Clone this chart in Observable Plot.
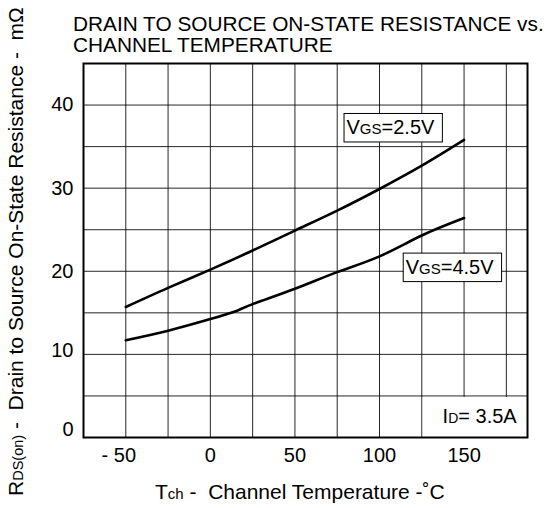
<!DOCTYPE html>
<html>
<head>
<meta charset="utf-8">
<script src="https://cdn.jsdelivr.net/npm/d3@7"></script>
<script src="https://cdn.jsdelivr.net/npm/@observablehq/plot@0.6"></script>
<style>
  body { margin: 0; background: #fff; }
  svg text { font-family: "Liberation Sans", Arial, sans-serif; }
</style>
</head>
<body>
<div id="chart"></div>
<script>
// ---- data ----
const tempsVgs25 = [-50, -25, 0, 25, 50, 75, 100, 125, 150];            // Tch, °C
const rdsVgs25 = [15.7, 18.0, 20.2, 22.5, 24.9, 27.3, 29.9, 32.7, 35.8];  // mΩ, VGS=2.5V
const tempsVgs45 = [-50, -25, 0, 15, 25, 50, 75, 100, 125, 150];         // Tch, °C
const rdsVgs45 = [11.7, 12.85, 14.25, 15.2, 16.05, 17.9, 19.9, 21.8, 24.3, 26.4]; // mΩ, VGS=4.5V
const seriesNames = ["VGS=2.5V", "VGS=4.5V"];
const xTickValues = [-50, 0, 50, 100, 150];
const yTickValues = [0, 10, 20, 30, 40];
const xGridValues = [-50, -25, 0, 25, 50, 75, 100, 125, 150, 175];
const yGridValues = [5, 10, 15, 20, 25, 30, 35, 40];
const xDomain = [-75, 187.5];
const yDomain = [0, 45];
const titleLines = ["DRAIN TO SOURCE ON-STATE RESISTANCE vs.", "CHANNEL TEMPERATURE"];
// annotations: [main, subscript, rest] and anchor in data units
const curveLabels = [
  {main: "V", sub: "GS", rest: "=2.5V", x: 80.8, y: 36.4},
  {main: "V", sub: "GS", rest: "=4.5V", x: 115.8, y: 19.6}
];
const condLabel = {main: "I", sub: "D", rest: "= 3.5A", x: 137.6, y: 1.7};
const condBox = {x1: 125, x2: 187.5, y1: 0, y2: 5};

const rows = [];
[[tempsVgs25, rdsVgs25], [tempsVgs45, rdsVgs45]].forEach(([ts, vals], k) =>
  ts.forEach((t, i) => rows.push({t, r: vals[i], s: seriesNames[k]})));

const fmt = d => d < 0 ? "- " + Math.abs(d) : String(d);

const chart = Plot.plot({
  width: 560, height: 508,
  marginLeft: 83, marginRight: 33, marginTop: 63, marginBottom: 71,
  style: {fontFamily: "Liberation Sans, Arial, sans-serif", fontSize: "20px", color: "#000", background: "#fff"},
  x: {domain: xDomain, label: null},
  y: {domain: yDomain, label: null},
  marks: [
    Plot.gridX(xGridValues, {stroke: "#000", strokeOpacity: 0.85, strokeWidth: 1}),
    Plot.gridY(yGridValues, {stroke: "#000", strokeOpacity: 0.85, strokeWidth: 1}),
    Plot.rect([condBox], {x1: "x1", x2: "x2", y1: "y1", y2: "y2", fill: "#fff", insetLeft: 1.5, insetTop: 1.5}),
    Plot.line(rows, {x: "t", y: "r", z: "s", stroke: "#000", strokeWidth: 2.6, curve: "natural"}),
    Plot.frame({stroke: "#000", strokeWidth: 2}),
    Plot.axisY(yTickValues.filter(d => d >= 20), {tickSize: 0, tickPadding: 10, label: null, fontSize: 20}),
    Plot.axisY(yTickValues.filter(d => d === 10), {tickSize: 0, tickPadding: 10, label: null, fontSize: 20, dy: -4}),
    Plot.axisY(yTickValues.filter(d => d === 0), {tickSize: 0, tickPadding: 10, label: null, fontSize: 20, dy: -8}),
    Plot.axisX(xTickValues.filter(d => d >= 0), {tickSize: 0, tickPadding: 10, label: null, fontSize: 20, tickFormat: fmt}),
    Plot.axisX(xTickValues.filter(d => d < 0), {tickSize: 0, tickPadding: 10, label: null, fontSize: 20, tickFormat: fmt, dx: -7})
  ]
});
document.getElementById("chart").appendChild(chart);

const svg = d3.select(chart);
const sx = chart.scale("x"), sy = chart.scale("y");
const FONT = "Liberation Sans, Arial, sans-serif";

function richText(parent, parts, x, y, attrs = {}) {
  const t = parent.append("text").attr("x", x).attr("y", y)
    .attr("font-family", FONT).attr("fill", "#000").attr("text-anchor", "start")
    .style("white-space", "pre");
  Object.entries(attrs).forEach(([k, v]) => t.attr(k, v));
  parts.forEach(([s, size]) => t.append("tspan").attr("font-size", size).text(s));
  return t;
}

// title
titleLines.forEach((line, i) =>
  richText(svg, [[line, 20.8]], 73, 31 + i * 21));

// x axis label
richText(svg, [["T", 21], ["ch", 15], [" -  Channel Temperature -˚C", 21]], 155, 499);

// y axis label (rotated)
richText(svg, [["R", 21], ["DS(on)", 14.5], [" -  Drain to Source On-State Resistance -  mΩ", 21]], 0, 0,
  {transform: "translate(23,496) rotate(-90)"});

// curve labels with boxes
curveLabels.forEach(l => {
  const g = svg.append("g");
  const px = sx.apply(l.x), py = sy.apply(l.y);
  const rect = g.append("rect");
  const t = richText(g, [[l.main, 20], [l.sub, 15], [l.rest, 20]], px, py);
  const w = t.node().getComputedTextLength();
  rect.attr("x", px - 2.5).attr("y", py - 21).attr("width", w + 10.5).attr("height", 28.5)
    .attr("fill", "#fff").attr("stroke", "#000").attr("stroke-width", 1);
});

// condition label
richText(svg, [[condLabel.main, 20], [condLabel.sub, 14], [condLabel.rest, 20]],
  sx.apply(condLabel.x), sy.apply(condLabel.y));
</script>
</body>
</html>
